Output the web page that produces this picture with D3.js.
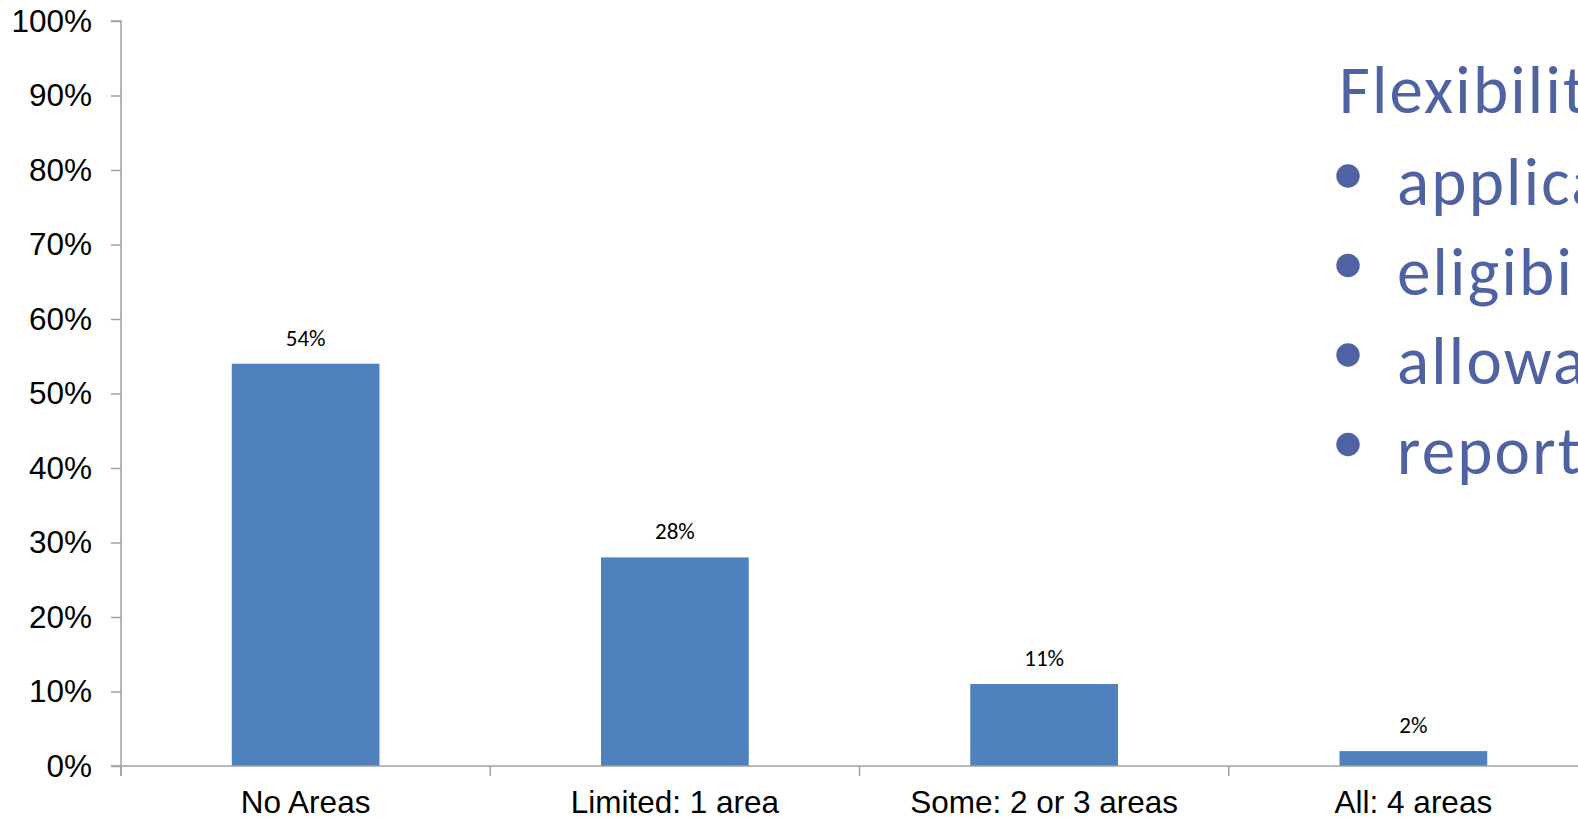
<!DOCTYPE html>
<html>
<head>
<meta charset="utf-8">
<script src="https://cdn.jsdelivr.net/npm/d3@7"></script>
<style>
  html, body { margin: 0; padding: 0; background: #fff; overflow: hidden; }
  svg { display: block; }
</style>
</head>
<body>
<svg id="chart" width="1578" height="820"></svg>
<script>
// Share of respondents by number of flexible areas
const categories = ["No Areas", "Limited: 1 area", "Some: 2 or 3 areas", "All: 4 areas"];
const shares = [54, 28, 11, 2];
const yTicks = [0, 10, 20, 30, 40, 50, 60, 70, 80, 90, 100];

// Side note text
const noteTitle = "Flexibility";
const noteItems = ["application", "eligibility", "allowable", "reporting"];

const svg = d3.select("#chart");

const plot = { left: 121, right: 1598, top: 21, bottom: 766 };

const x = d3.scaleBand()
  .domain(categories)
  .range([plot.left, plot.right])
  .paddingInner(0.6)
  .paddingOuter(0.3);

const y = d3.scaleLinear()
  .domain([0, 100])
  .range([plot.bottom, plot.top]);

const axisColor = "#a0a0a0";

// Bars
svg.append("g")
  .selectAll("rect")
  .data(categories.map((c, i) => ({ c, v: shares[i] })))
  .join("rect")
  .attr("x", d => x(d.c))
  .attr("y", d => y(d.v))
  .attr("width", x.bandwidth())
  .attr("height", d => y(0) - y(d.v))
  .attr("fill", "#4f81bd");

// Value labels
svg.append("g")
  .selectAll("text")
  .data(categories.map((c, i) => ({ c, v: shares[i] })))
  .join("text")
  .attr("x", d => x(d.c) + x.bandwidth() / 2)
  .attr("y", d => y(d.v) - 18)
  .attr("text-anchor", "middle")
  .attr("font-family", "Calibri, Carlito, Lato, sans-serif")
  .attr("font-size", 23)
  .attr("fill", "#000")
  .text(d => d.v + "%");

// Y axis
const yAxis = svg.append("g")
  .attr("transform", `translate(${plot.left},0)`)
  .call(d3.axisLeft(y).tickValues(yTicks).tickFormat(d => d + "%").tickSize(10).tickPadding(19));
yAxis.select(".domain").attr("stroke", axisColor).attr("stroke-width", 1.5)
  .attr("d", `M-10,${plot.top}H0V${plot.bottom + 10}`);
yAxis.selectAll(".tick line").attr("stroke", axisColor).attr("stroke-width", 1.5);
yAxis.selectAll(".tick text")
  .attr("font-family", "Arial, 'Liberation Sans', sans-serif")
  .attr("font-size", 31.5)
  .attr("fill", "#000");

// X axis: ticks at band boundaries
const step = x.step();
const boundaries = d3.range(categories.length + 1).map(i => plot.left + i * step);
const xg = svg.append("g");
xg.append("line")
  .attr("x1", plot.left - 10).attr("x2", plot.right)
  .attr("y1", plot.bottom).attr("y2", plot.bottom)
  .attr("stroke", axisColor).attr("stroke-width", 1.5);
xg.selectAll("line.tk")
  .data(boundaries)
  .join("line")
  .attr("class", "tk")
  .attr("x1", d => d).attr("x2", d => d)
  .attr("y1", plot.bottom).attr("y2", plot.bottom + 10)
  .attr("stroke", axisColor).attr("stroke-width", 1.5);
xg.selectAll("text")
  .data(categories)
  .join("text")
  .attr("x", d => x(d) + x.bandwidth() / 2)
  .attr("y", 813)
  .attr("text-anchor", "middle")
  .attr("font-family", "Arial, 'Liberation Sans', sans-serif")
  .attr("font-size", 31.5)
  .attr("fill", "#000")
  .text(d => d);

// Side note
const noteColor = "#4f62a2";
const note = svg.append("g")
  .attr("font-family", "Calibri, Carlito, Lato, sans-serif")
  .attr("letter-spacing", 2.2)
  .attr("fill", noteColor);
note.append("text")
  .attr("x", 1339)
  .attr("y", 113)
  .attr("font-size", 67)
  .text(noteTitle);
const lineGap = 89.5;
noteItems.forEach((t, i) => {
  const cy = 176 + i * lineGap;
  note.append("circle").attr("cx", 1348).attr("cy", cy).attr("r", 11.7);
  note.append("text")
    .attr("x", 1397)
    .attr("y", cy + 29)
    .attr("font-size", 67)
    .text(t);
});
</script>
</body>
</html>
